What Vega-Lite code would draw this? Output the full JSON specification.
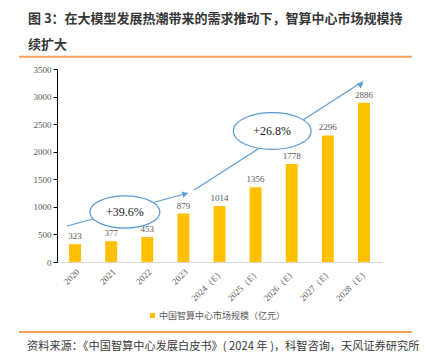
{
  "$schema": "https://vega.github.io/schema/vega-lite/v6.json",
  "width": 325,
  "height": 193,
  "autosize": {"type": "none"},
  "padding": {"left": 57, "top": 69, "right": 46, "bottom": 102},
  "background": "white",
  "title": {
    "text": ["图 3：在大模型发展热潮带来的需求推动下，智算中心市场规模持", "续扩大"],
    "anchor": "start",
    "frame": "group",
    "dx": -29,
    "offset": 4,
    "font": "Noto Sans CJK SC",
    "fontSize": 13,
    "fontWeight": "bold",
    "color": "#363636",
    "lineHeight": 26
  },
  "config": {
    "view": {"stroke": null},
    "axis": {"grid": false, "title": null}
  },
  "resolve": {"scale": {"x": "independent"}, "axis": {"x": "independent", "y": "independent"}},
  "datasets": {
    "market": [
      {"year": "2020", "value": 323, "series": "中国智算中心市场规模（亿元）"},
      {"year": "2021", "value": 377, "series": "中国智算中心市场规模（亿元）"},
      {"year": "2022", "value": 453, "series": "中国智算中心市场规模（亿元）"},
      {"year": "2023", "value": 879, "series": "中国智算中心市场规模（亿元）"},
      {"year": "2024（E）", "value": 1014, "series": "中国智算中心市场规模（亿元）"},
      {"year": "2025（E）", "value": 1356, "series": "中国智算中心市场规模（亿元）"},
      {"year": "2026（E）", "value": 1778, "series": "中国智算中心市场规模（亿元）"},
      {"year": "2027（E）", "value": 2296, "series": "中国智算中心市场规模（亿元）"},
      {"year": "2028（E）", "value": 2886, "series": "中国智算中心市场规模（亿元）"}
    ]
  },
  "layer": [
    {
      "data": {"name": "market"},
      "mark": {"type": "bar"},
      "encoding": {
        "x": {"field": "year", "type": "nominal", "sort": null,
          "scale": {"paddingInner": 0.67, "paddingOuter": 0.335},
          "axis": {"labelAngle": -45, "ticks": false, "domainColor": "#D9D9D9", "labelFont": "Liberation Serif", "labelFontSize": 9, "labelColor": "#595959", "labelPadding": 5}},
        "y": {"field": "value", "type": "quantitative",
          "scale": {"domain": [0, 3500], "nice": false},
          "axis": {"values": [0, 500, 1000, 1500, 2000, 2500, 3000, 3500], "format": "d", "domainColor": "#000000", "tickColor": "#000000", "tickSize": 4, "labelFont": "Liberation Serif", "labelFontSize": 9, "labelColor": "#595959", "labelPadding": 2}},
        "color": {"field": "series", "type": "nominal",
          "scale": {"range": ["#FFC000"]},
          "legend": {"orient": "none", "legendX": 91, "legendY": 242, "title": null, "symbolType": "square", "symbolSize": 25, "labelOffset": 2, "labelFont": "Noto Sans CJK SC", "labelFontSize": 9, "labelColor": "#595959", "symbolStrokeWidth": 0}}
      }
    },
    {
      "data": {"name": "market"},
      "mark": {"type": "text", "dy": -8, "font": "Liberation Serif", "fontSize": 9, "color": "#595959"},
      "encoding": {
        "x": {"field": "year", "type": "nominal", "sort": null, "scale": {"paddingInner": 0.67, "paddingOuter": 0.335}, "axis": null},
        "y": {"field": "value", "type": "quantitative", "scale": {"domain": [0, 3500], "nice": false}, "axis": null},
        "text": {"field": "value", "type": "quantitative"}
      }
    },
    {
      "data": {"values": [
        {"seg": 1, "pos": 0.28, "value": 653},
        {"seg": 1, "pos": 3.63, "value": 1252},
        {"seg": 2, "pos": 3.80, "value": 1306},
        {"seg": 2, "pos": 8.48, "value": 3280}
      ]},
      "mark": {"type": "line", "color": "#5B9BD5", "strokeWidth": 1.2, "clip": false},
      "encoding": {
        "x": {"field": "pos", "type": "quantitative", "scale": {"domain": [0, 9], "nice": false, "zero": false}, "axis": null},
        "y": {"field": "value", "type": "quantitative", "scale": {"domain": [0, 3500], "nice": false}, "axis": null},
        "detail": {"field": "seg", "type": "nominal"}
      }
    },
    {
      "data": {"values": [{"pos": 3.55, "value": 1235}]},
      "mark": {"type": "point", "shape": "triangle-right", "size": 40, "angle": 345, "filled": true, "color": "#5B9BD5", "opacity": 1},
      "encoding": {
        "x": {"field": "pos", "type": "quantitative", "scale": {"domain": [0, 9], "nice": false, "zero": false}, "axis": null},
        "y": {"field": "value", "type": "quantitative", "scale": {"domain": [0, 3500], "nice": false}, "axis": null}
      }
    },
    {
      "data": {"values": [{"pos": 8.42, "value": 3220}]},
      "mark": {"type": "point", "shape": "triangle-right", "size": 40, "angle": 327, "filled": true, "color": "#5B9BD5", "opacity": 1},
      "encoding": {
        "x": {"field": "pos", "type": "quantitative", "scale": {"domain": [0, 9], "nice": false, "zero": false}, "axis": null},
        "y": {"field": "value", "type": "quantitative", "scale": {"domain": [0, 3500], "nice": false}, "axis": null}
      }
    },
    {
      "data": {"values": [{"pos": 1.88, "value": 907}]},
      "mark": {"type": "point", "shape": "M -1 0 A 1 0.46 0 1 1 1 0 A 1 0.46 0 1 1 -1 0 Z", "size": 4900, "filled": true, "fill": "white", "stroke": "#5B9BD5", "strokeWidth": 1.2, "opacity": 1},
      "encoding": {
        "x": {"field": "pos", "type": "quantitative", "scale": {"domain": [0, 9], "nice": false, "zero": false}, "axis": null},
        "y": {"field": "value", "type": "quantitative", "scale": {"domain": [0, 3500], "nice": false}, "axis": null}
      }
    },
    {
      "data": {"values": [{"pos": 5.96, "value": 2376}]},
      "mark": {"type": "point", "shape": "M -1 0 A 1 0.47 0 1 1 1 0 A 1 0.47 0 1 1 -1 0 Z", "size": 6084, "filled": true, "fill": "white", "stroke": "#5B9BD5", "strokeWidth": 1.2, "opacity": 1},
      "encoding": {
        "x": {"field": "pos", "type": "quantitative", "scale": {"domain": [0, 9], "nice": false, "zero": false}, "axis": null},
        "y": {"field": "value", "type": "quantitative", "scale": {"domain": [0, 3500], "nice": false}, "axis": null}
      }
    },
    {
      "data": {"values": [{"pos": 1.88, "value": 907, "label": "+39.6%"}, {"pos": 5.96, "value": 2376, "label": "+26.8%"}]},
      "mark": {"type": "text", "font": "Liberation Serif", "fontSize": 12, "color": "#222222"},
      "encoding": {
        "x": {"field": "pos", "type": "quantitative", "scale": {"domain": [0, 9], "nice": false, "zero": false}, "axis": null},
        "y": {"field": "value", "type": "quantitative", "scale": {"domain": [0, 3500], "nice": false}, "axis": null},
        "text": {"field": "label"}
      }
    },
    {
      "data": {"values": [{"pos": -1.05, "pos2": 9.83, "value": 3721}, {"pos": -1.05, "pos2": 9.83, "value": -1270}]},
      "mark": {"type": "rule", "color": "#F5A25D", "strokeWidth": 2, "clip": false},
      "encoding": {
        "x": {"field": "pos", "type": "quantitative", "scale": {"domain": [0, 9], "nice": false, "zero": false}, "axis": null},
        "x2": {"field": "pos2"},
        "y": {"field": "value", "type": "quantitative", "scale": {"domain": [0, 3500], "nice": false}, "axis": null}
      }
    },
    {
      "data": {"values": [{"pos": -0.83, "value": -1542, "source": "资料来源：《中国智算中心发展白皮书》( 2024 年 )，科智咨询，天风证券研究所"}]},
      "mark": {"type": "text", "align": "left", "baseline": "middle", "font": "Noto Sans CJK SC", "fontSize": 11.2, "color": "#3a3a3a", "clip": false},
      "encoding": {
        "x": {"field": "pos", "type": "quantitative", "scale": {"domain": [0, 9], "nice": false, "zero": false}, "axis": null},
        "y": {"field": "value", "type": "quantitative", "scale": {"domain": [0, 3500], "nice": false}, "axis": null},
        "text": {"field": "source"}
      }
    }
  ]
}
